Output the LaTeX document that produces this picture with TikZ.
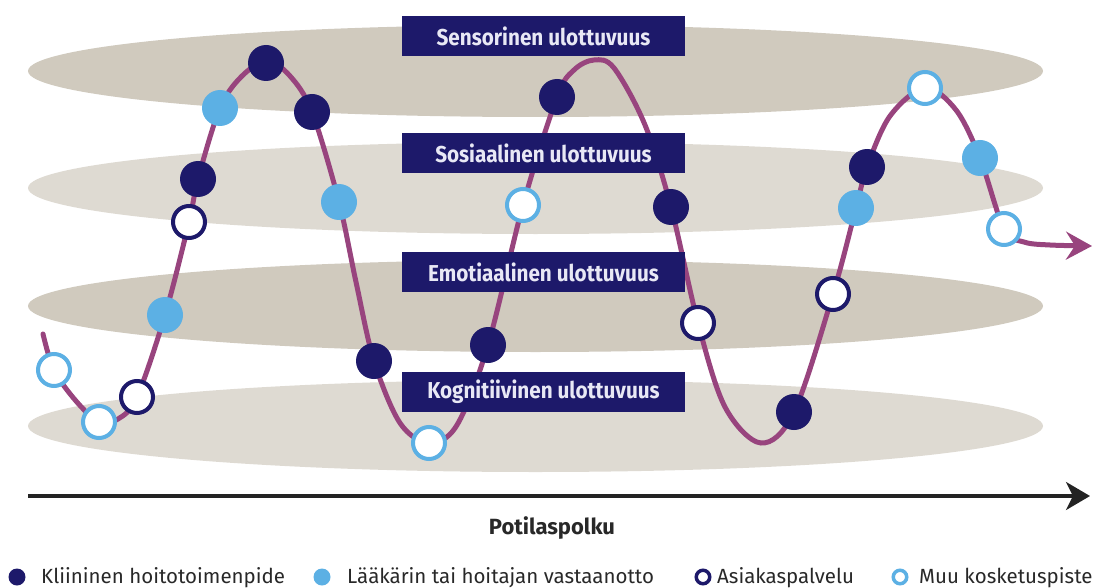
\documentclass[tikz,border=0pt]{standalone}
\usepackage{fontspec}
\setmainfont{Fira Sans}
\newfontfamily\condfont{Fira Sans}[FakeStretch=0.9]
\usetikzlibrary{arrows.meta}
\definecolor{navyc}{RGB}{29,25,106}
\definecolor{lblue}{RGB}{92,176,228}
\definecolor{plum}{RGB}{152,68,126}
\definecolor{ellA}{RGB}{208,202,190}
\definecolor{ellB}{RGB}{222,218,210}
\definecolor{boxtext}{RGB}{232,232,245}
\definecolor{axisc}{RGB}{35,35,35}
\definecolor{txtc}{RGB}{40,40,40}
\tikzset{
  clin/.style={circle, fill=navyc, minimum size=36pt, inner sep=0pt},
  doc/.style={circle, fill=lblue, minimum size=36pt, inner sep=0pt},
  cust/.style={circle, fill=white, draw=navyc, line width=4pt, minimum size=32pt, inner sep=0pt},
  othr/.style={circle, fill=white, draw=lblue, line width=4pt, minimum size=32pt, inner sep=0pt},
  lclin/.style={circle, fill=navyc, minimum size=17pt, inner sep=0pt},
  ldoc/.style={circle, fill=lblue, minimum size=17pt, inner sep=0pt},
  lcust/.style={circle, fill=white, draw=navyc, line width=3.5pt, minimum size=13.5pt, inner sep=0pt},
  lothr/.style={circle, fill=white, draw=lblue, line width=3.5pt, minimum size=13.5pt, inner sep=0pt},
  dimbox/.style={fill=navyc, text=boxtext, minimum width=283pt, minimum height=40pt, inner sep=0pt,
    font=\condfont\bfseries\fontsize{23}{25}\selectfont},
  journey/.style={draw=plum, line width=5pt, line cap=round},
  legtext/.style={anchor=base west, inner sep=0pt, text=txtc, font=\fontsize{20.5}{22}\selectfont},
}
\begin{document}
\begin{tikzpicture}[x=1pt,y=-1pt]
\useasboundingbox (0,0) rectangle (1102,588);
% layers (ellipses)
\fill[ellA] (535.5,71) ellipse [x radius=507.5, y radius=46];
\fill[ellB] (535.5,188) ellipse [x radius=507.5, y radius=46];
\fill[ellA] (535.5,306) ellipse [x radius=507.5, y radius=46];
\fill[ellB] (535.5,426) ellipse [x radius=507.5, y radius=46];
% journey coordinates
\coordinate (s0) at (43,334);
\coordinate (p1) at (54,370);
\coordinate (q1) at (76,401);
\coordinate (p2) at (99,422);
\coordinate (q2) at (118,419);
\coordinate (p3) at (137,397);
\coordinate (p4) at (165,315);
\coordinate (p5) at (189,222);
\coordinate (p6) at (198,179);
\coordinate (p7) at (220,108);
\coordinate (q3) at (242,76);
\coordinate (p8) at (267,61);
\coordinate (q4) at (290,76);
\coordinate (p9) at (312,112);
\coordinate (p10) at (339,202);
\coordinate (q5) at (356,282);
\coordinate (p11) at (374,361);
\coordinate (q6) at (400,423);
\coordinate (p12) at (429,443);
\coordinate (q7) at (457,425);
\coordinate (p13) at (488,345);
\coordinate (p14) at (523,205);
\coordinate (p15) at (557,97);
\coordinate (q8) at (574,70);
\coordinate (k2) at (594,60);
\coordinate (q9) at (614,68);
\coordinate (q10) at (645,125);
\coordinate (p16) at (671,207);
\coordinate (p17) at (698,323);
\coordinate (q11) at (725,407);
\coordinate (k3) at (761,443);
\coordinate (p18) at (794,412);
\coordinate (p19) at (833,294);
\coordinate (p20) at (856,208);
\coordinate (p21) at (867,167);
\coordinate (q12) at (890,116);
\coordinate (p22) at (925,88);
\coordinate (q13) at (956,110);
\coordinate (p23) at (980,158);
\coordinate (p24) at (1004,229);
\coordinate (q14) at (1024,242);
\coordinate (q15) at (1050,245);
\coordinate (e0) at (1092,246);
\draw[journey, -{Stealth[length=26pt, width=28pt, inset=9pt]}]
  plot[smooth, tension=0.55] coordinates {(s0) (p1) (q1) (p2) (q2) (p3) (p4) (p5) (p6) (p7) (q3) (p8) (q4) (p9) (p10) (q5) (p11) (q6) (p12) (q7) (p13) (p14) (p15) (q8) (k2) (q9) (q10) (p16) (p17) (q11) (k3) (p18) (p19) (p20) (p21) (q12) (p22) (q13) (p23) (p24) (q14) (q15) (e0)};
% touchpoints
\node[othr] (n1) at (p1) {};
\node[othr] (n2) at (p2) {};
\node[cust] (n3) at (p3) {};
\node[doc]  (n4) at (p4) {};
\node[cust] (n5) at (p5) {};
\node[clin] (n6) at (p6) {};
\node[doc]  (n7) at (p7) {};
\node[clin] (n8) at (266,63) {};
\node[clin] (n9) at (p9) {};
\node[doc]  (n10) at (p10) {};
\node[clin] (n11) at (p11) {};
\node[othr] (n12) at (p12) {};
\node[clin] (n13) at (p13) {};
\node[othr] (n14) at (p14) {};
\node[clin] (n15) at (p15) {};
\node[clin] (n16) at (p16) {};
\node[cust] (n17) at (p17) {};
\node[clin] (n18) at (p18) {};
\node[cust] (n19) at (p19) {};
\node[doc]  (n20) at (p20) {};
\node[clin] (n21) at (p21) {};
\node[othr] (n22) at (p22) {};
\node[doc]  (n23) at (p23) {};
\node[othr] (n24) at (p24) {};
% dimension labels (on top of the journey line)
\node[dimbox] (b1) at (543.5,36) {Sensorinen ulottuvuus};
\node[dimbox] (b2) at (543.5,153) {Sosiaalinen ulottuvuus};
\node[dimbox] (b3) at (543.5,272) {Emotiaalinen ulottuvuus};
\node[dimbox] (b4) at (543.5,392) {Kognitiivinen ulottuvuus};
% axis
\coordinate (ax0) at (28,496);
\coordinate (ax1) at (1090,496);
\draw[draw=axisc, line width=3.5pt, -{Stealth[length=24pt, width=28pt, inset=7pt]}] (ax0) -- (ax1);
\node[anchor=base, inner sep=0pt, text=txtc, font=\fontsize{22}{24}\selectfont\bfseries] (axl) at (552,534) {Potilaspolku};
% legend
\node[lclin] (l1) at (17,577) {};
\node[legtext] (t1) at (41,583) {Kliininen hoitotoimenpide};
\node[ldoc] (l2) at (322,577) {};
\node[legtext] (t2) at (347,583) {Lääkärin tai hoitajan vastaanotto};
\node[lcust] (l3) at (703,577) {};
\node[legtext] (t3) at (717,583) {Asiakaspalvelu};
\node[lothr] (l4) at (900,577) {};
\node[legtext] (t4) at (919,583) {Muu kosketuspiste};
\end{tikzpicture}
\end{document}
